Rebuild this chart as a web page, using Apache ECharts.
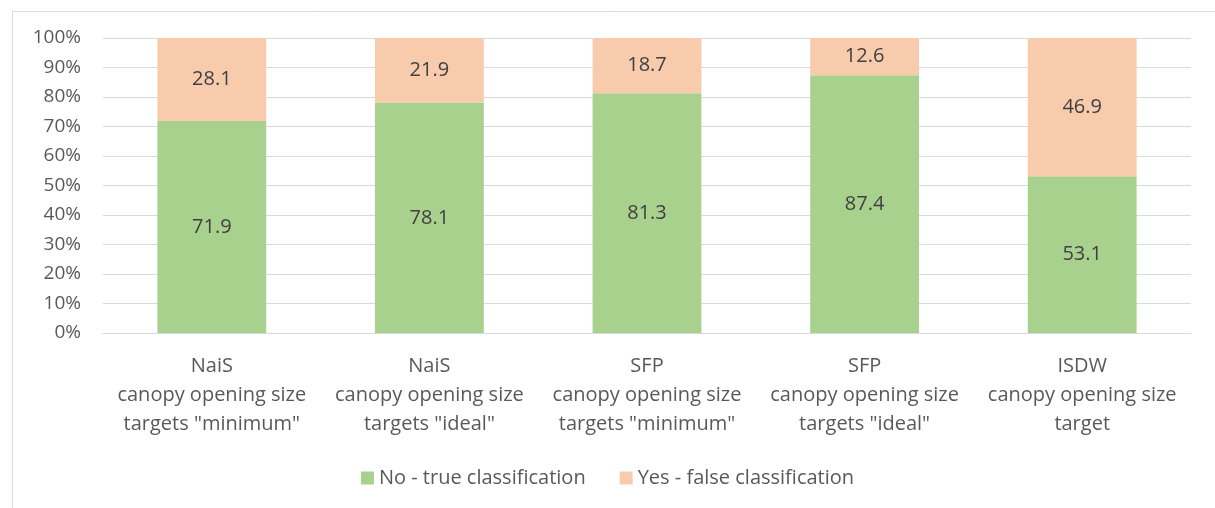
<!DOCTYPE html>
<html><head><meta charset="utf-8">
<script src="https://cdn.jsdelivr.net/npm/echarts@6/dist/echarts.min.js"></script>
<style>html,body{margin:0;padding:0;background:#fff}#c{width:1215px;height:508px}</style>
</head><body><div id="c"></div>
<script>
const categories = ['NaiS\ncanopy opening size\ntargets "minimum"','NaiS\ncanopy opening size\ntargets "ideal"','SFP\ncanopy opening size\ntargets "minimum"','SFP\ncanopy opening size\ntargets "ideal"','ISDW\ncanopy opening size\ntarget'];
const noTrue = [71.9, 78.1, 81.3, 87.4, 53.1];
const yesFalse = [28.1, 21.9, 18.7, 12.6, 46.9];
const seriesNames = ['No - true classification','Yes - false classification'];
const FONT = 'Open Sans';
const chart = echarts.init(document.getElementById('c'));
chart.setOption({
  animation:false,
  textStyle:{fontFamily:FONT},
  graphic:[{type:'rect',left:10,top:9,shape:{width:1230,height:520},style:{fill:'none',stroke:'#d9d9d9',lineWidth:1}}],
  grid:{left:103,right:24,top:38,bottom:175,containLabel:false},
  legend:{bottom:15,left:'center',itemWidth:13,itemHeight:13,itemGap:34,icon:'rect',
    textStyle:{fontFamily:FONT,fontSize:20,color:'#595959'},data:seriesNames},
  xAxis:{type:'category',data:categories,
    axisLine:{lineStyle:{color:'#d9d9d9',width:1}},axisTick:{show:false},
    axisLabel:{fontFamily:FONT,fontSize:20,color:'#595959',lineHeight:29,margin:19,interval:0}},
  yAxis:{type:'value',min:0,max:100,interval:10,
    axisLabel:{formatter:'{value}%',fontFamily:FONT,fontSize:19,color:'#595959',margin:22},
    splitLine:{lineStyle:{color:'#d9d9d9',width:1}},axisLine:{show:false},axisTick:{show:false}},
  series:[
    {name:seriesNames[0],type:'bar',stack:'s',data:noTrue,barWidth:'50%',itemStyle:{color:'#A9D18E'},
     label:{show:true,position:'inside',fontFamily:FONT,fontSize:20,color:'#404040',formatter:p=>p.value.toFixed(1)}},
    {name:seriesNames[1],type:'bar',stack:'s',data:yesFalse,barWidth:'50%',itemStyle:{color:'#F8CBAD'},
     label:{show:true,position:'inside',fontFamily:FONT,fontSize:20,color:'#404040',formatter:p=>p.value.toFixed(1)}}
  ]
});
</script></body></html>
